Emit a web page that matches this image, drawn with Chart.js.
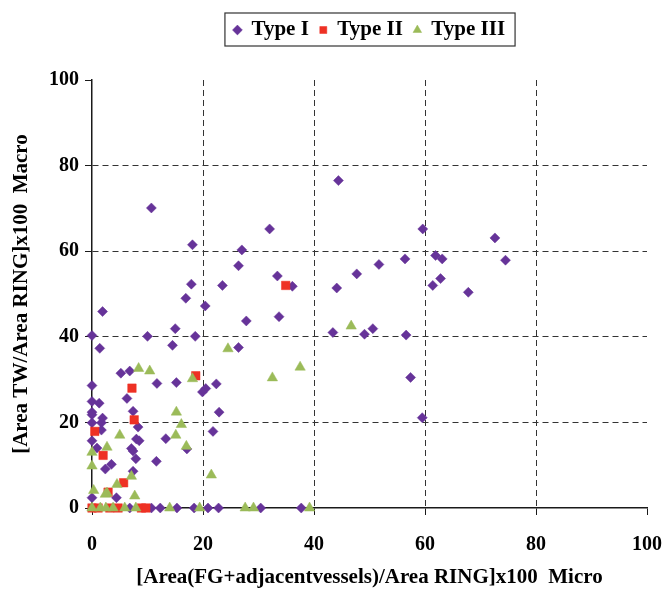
<!doctype html>
<html lang="en">
  <head>
    <meta charset="UTF-8" />
    <title>Type I / II / III scatter</title>
    <script src="https://cdn.jsdelivr.net/npm/chart.js"></script>
    <style>
      body {
        margin: 0;
        background: #fff;
      }
      .wrap {
        position: relative;
        width: 662px;
        height: 592px;
      }
    </style>
  </head>
  <body>
    <div class="wrap">
      <canvas id="scatter"></canvas>
    </div>

    <script>
      // series values (x = Micro, y = Macro)
      const typeIX = [10.7, 18.1, 17.9, 16.9, 20.4, 1.9, 0, 10.0, 15.0, 18.6, 1.4, 14.5, 5.2, 6.8, 11.7, 15.2, 0, 20.5, 19.9, 22.4, 6.3, 0, 1.3, 0, 0, 1.9, 7.4, 8.3, 1.7, 0, 1.7, 8.0, 8.5, 13.3, 0, 0.9, 7.1, 7.4, 3.5, 2.4, 7.9, 11.6, 17.1, 7.4, 0, 4.4, 21.8, 22.9,
        32.0, 27.0, 26.4, 33.4, 23.5, 36.1, 27.8, 33.7, 26.4,
        44.4, 59.6, 72.6, 61.9, 63.1, 74.5, 56.4, 51.7, 47.7, 44.1, 62.8, 61.4, 67.8, 43.4, 50.6, 49.1, 56.6, 57.4, 59.5,
        6.8, 10.7, 12.3, 15.3, 18.4, 20.9, 22.8, 30.4, 37.7];
      const typeIY = [70.1, 61.5, 52.3, 49.0, 47.2, 45.9, 40.3, 40.1, 41.9, 40.1, 37.3, 38.0, 31.5, 32.0, 29.1, 29.3, 28.6, 27.9, 27.1, 29.0, 25.6, 24.9, 24.5, 22.4, 21.8, 21.0, 22.6, 18.9, 19.9, 19.9, 18.2, 16.1, 15.7, 16.2, 15.7, 14.0, 13.9, 13.3, 10.2, 9.1, 11.5, 10.9, 13.8, 8.6, 2.4, 2.4, 17.9, 22.4,
        65.2, 60.3, 56.6, 54.2, 52.0, 51.8, 43.7, 44.7, 37.5,
        76.5, 65.2, 63.1, 59.0, 58.2, 57.9, 58.2, 56.9, 54.7, 51.4, 53.6, 52.0, 50.4, 41.0, 41.9, 40.6, 40.4, 30.5, 21.1,
        0, 0, 0, 0, 0, 0, 0, 0, 0];

      const typeIIX = [34.9, 18.7, 7.2, 7.6, 0.5, 2.0, 5.7, 2.9, 0, 1.1, 3.2, 4.7, 8.9, 9.7];
      const typeIIY = [52.0, 30.9, 28.0, 20.6, 17.9, 12.3, 5.9, 3.7, 0, 0, 0, 0, 0, 0];

      const typeIIIX = [46.7, 24.5, 8.4, 10.4, 18.1, 32.5, 37.5, 5.0, 15.1, 16.1, 15.2, 0, 2.7, 0, 17.0, 21.5, 7.1, 4.5, 0.3, 2.7, 2.4, 7.7,
        0, 1.5, 2.5, 3.8, 5.9, 7.9, 14.0, 19.4, 27.6, 29.1, 39.2];
      const typeIIIY = [42.5, 37.2, 32.6, 32.0, 30.2, 30.4, 32.9, 17.0, 17.0, 19.5, 22.4, 13.0, 14.2, 9.8, 14.4, 7.7, 7.4, 5.5, 4.1, 3.5, 3.2, 2.8,
        0, 0, 0, 0, 0, 0, 0, 0, 0, 0, 0];

      const seriesNames = ['Type I', 'Type II', 'Type III'];
      const axisTicks = [0, 20, 40, 60, 80, 100];
      const xTitle = '[Area(FG+adjacentvessels)/Area RING]x100  Micro';
      const yTitle = '[Area TW/Area RING]x100  Macro';

      function toPoints(xs, ys) {
        return xs.map((x, i) => ({ x: x, y: ys[i] }));
      }

      const serif = "'Liberation Serif', 'DejaVu Serif', serif";
      const ink = '#1a1a1a';

      // grid: dashed lines inside, nothing at 0 (axis line) or 100 (no frame)
      function gridColor(ctx) {
        const v = ctx.tick ? ctx.tick.value : null;
        return v === 0 || v === 100 ? 'rgba(0,0,0,0)' : '#333';
      }

      // legend: more room under it, and a thin frame round the items
      const legendFrame = {
        id: 'legendFrame',
        beforeInit(chart) {
          const fit = chart.legend.fit;
          chart.legend.fit = function () {
            fit.call(this);
            this.height = 71.5;
          };
        },
        afterDraw(chart) {
          const boxes = chart.legend.legendHitBoxes;
          if (!boxes || !boxes.length) return;
          const left = Math.min(...boxes.map((b) => b.left)) - 9;
          const right = Math.max(...boxes.map((b) => b.left + b.width)) + 10;
          const top = boxes[0].top - 6.5;
          const bottom = boxes[0].top + boxes[0].height + 5.5;
          const c = chart.ctx;
          c.save();
          c.strokeStyle = '#333';
          c.lineWidth = 1.2;
          c.strokeRect(left, top, right - left, bottom - top);
          c.restore();
        },
      };

      new Chart(document.getElementById('scatter'), {
        type: 'scatter',
        data: {
          datasets: [
            {
              label: seriesNames[0],
              data: toPoints(typeIX, typeIY),
              pointStyle: 'rectRot',
              pointRadius: 5,
              pointHoverRadius: 5,
              backgroundColor: '#663399',
              borderColor: '#663399',
              borderWidth: 0.5,
              clip: false,
              order: 3,
            },
            {
              label: seriesNames[1],
              data: toPoints(typeIIX, typeIIY),
              pointStyle: 'rect',
              pointRadius: 6,
              pointHoverRadius: 6,
              backgroundColor: '#ee3124',
              borderColor: '#ee3124',
              borderWidth: 0.5,
              clip: false,
              order: 2,
            },
            {
              label: seriesNames[2],
              data: toPoints(typeIIIX, typeIIIY),
              pointStyle: 'triangle',
              pointRadius: 6,
              pointHoverRadius: 6,
              backgroundColor: '#9bbb59',
              borderColor: '#9bbb59',
              borderWidth: 0.5,
              clip: false,
              order: 1,
            },
          ],
        },
        plugins: [legendFrame],
        options: {
          responsive: true,
          maintainAspectRatio: false,
          animation: false,
          layout: {
            padding: { top: 8.5, left: 0, right: 0, bottom: 0 },
          },
          plugins: {
            legend: {
              position: 'top',
              fullSize: false,
              labels: {
                usePointStyle: true,
                boxWidth: 7,
                boxHeight: 7,
                padding: 11,
                color: '#000',
                font: { family: serif, size: 21, weight: 'bold' },
                sort: (a, b) => a.datasetIndex - b.datasetIndex,
              },
            },
            tooltip: { enabled: false },
          },
          scales: {
            x: {
              type: 'linear',
              min: 0,
              max: 100,
              afterBuildTicks: (scale) => {
                scale.ticks = axisTicks.map((v) => ({ value: v }));
              },
              afterFit: (scale) => {
                scale.height = 84;
                scale.paddingRight = 15;
              },
              ticks: {
                color: '#000',
                padding: 18,
                font: { family: serif, size: 20, weight: 'bold' },
              },
              grid: {
                color: gridColor,
                tickColor: ink,
                tickLength: 7,
                lineWidth: 1,
              },
              border: { display: true, color: ink, width: 1.5, dash: [6, 4] },
              title: {
                display: true,
                text: xTitle,
                color: '#000',
                padding: { top: 2, bottom: 2 },
                font: { family: serif, size: 21, weight: 'bold' },
              },
            },
            y: {
              type: 'linear',
              min: 0,
              max: 100,
              afterBuildTicks: (scale) => {
                scale.ticks = axisTicks.map((v) => ({ value: v }));
              },
              afterFit: (scale) => {
                scale.width = 92;
              },
              ticks: {
                color: '#000',
                padding: 6,
                font: { family: serif, size: 20, weight: 'bold' },
              },
              grid: {
                color: gridColor,
                tickColor: ink,
                tickLength: 7,
                lineWidth: 1,
              },
              border: { display: true, color: ink, width: 1.5, dash: [6, 4] },
              title: {
                display: true,
                text: yTitle,
                color: '#000',
                padding: { top: 9, bottom: 2 },
                font: { family: serif, size: 21, weight: 'bold' },
              },
            },
          },
        },
      });
    </script>
  </body>
</html>
